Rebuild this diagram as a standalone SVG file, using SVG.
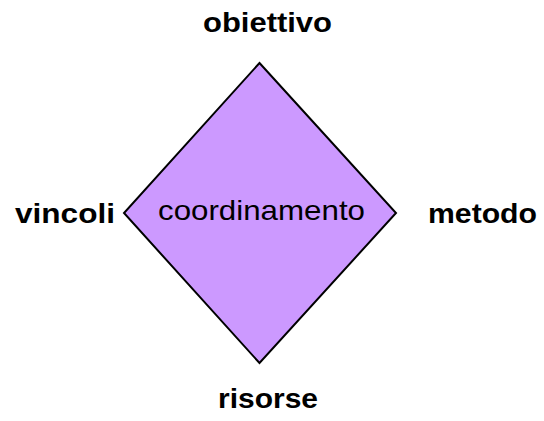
<svg xmlns="http://www.w3.org/2000/svg" width="544" height="421" viewBox="0 0 544 421">
<style>
.lbl{font-family:"Liberation Sans",Arial,sans-serif;font-weight:bold;font-size:28px;fill:#000}
.ctr{font-family:"Liberation Sans",Arial,sans-serif;font-size:28px;fill:#000}
</style>
<rect width="544" height="421" fill="#fff"/>
<g id="connectors"></g>
<g id="coordinamento">
<polygon points="259.5,63 396,213 259.5,363 124,213" fill="#cc99ff" stroke="#000" stroke-width="2" stroke-linejoin="miter"/>
<text class="ctr" x="158" y="220" textLength="207" lengthAdjust="spacingAndGlyphs">coordinamento</text>
</g>
<g id="obiettivo"><text class="lbl" x="203" y="32" textLength="129" lengthAdjust="spacingAndGlyphs">obiettivo</text></g>
<g id="vincoli"><text class="lbl" x="15" y="223" textLength="100" lengthAdjust="spacingAndGlyphs">vincoli</text></g>
<g id="metodo"><text class="lbl" x="428" y="223" textLength="109" lengthAdjust="spacingAndGlyphs">metodo</text></g>
<g id="risorse"><text class="lbl" x="218" y="408" textLength="100" lengthAdjust="spacingAndGlyphs">risorse</text></g>
</svg>
